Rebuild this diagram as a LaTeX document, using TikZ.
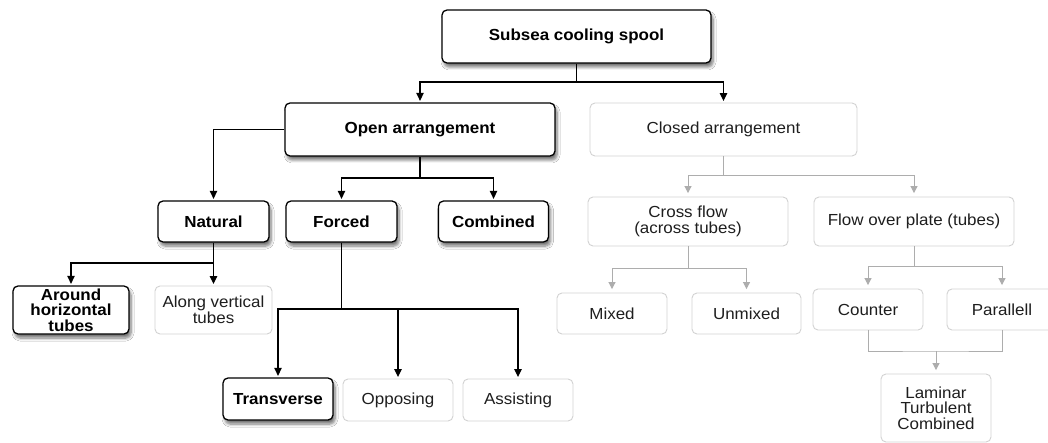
\documentclass[tikz,border=0pt]{standalone}
\usepackage{fontspec}
\setmainfont{Liberation Sans}[FakeStretch=1.06]
\usetikzlibrary{arrows.meta,shadows.blur}
\newcommand\myfs{\fontsize{16}{15.5}\selectfont}
\definecolor{lgray}{HTML}{D2D2D2}
\definecolor{cgray}{HTML}{ADADAD}
\definecolor{tgray}{HTML}{1E1E1E}
\begin{document}
\begin{tikzpicture}[x=1pt,y=-1pt,
  dark/.style={draw=black, line width=1.3pt, rounded corners=5pt, fill=white, align=center, inner sep=0pt,
    font=\myfs\bfseries,
    blur shadow={shadow xshift=2pt, shadow yshift=-4pt, shadow blur steps=6, shadow opacity=55, shadow blur radius=3pt}},
  light/.style={draw=lgray, line width=0.9pt, rounded corners=5pt, fill=white, align=center, inner sep=0pt,
    text=tgray, font=\myfs},
  bline/.style={line width=1.2pt, black},
  barr/.style={bline, -{Triangle[width=7.5pt,length=8pt]}, shorten >=1.5pt},
  gline/.style={line width=1pt, cgray},
  garr/.style={gline, -{Triangle[width=7pt,length=7pt]}, shorten >=3.5pt}
]
\fill[white] (0,0) rectangle (1048,443);
\useasboundingbox (0,0) rectangle (1048,443);

% nodes
\node[dark, minimum width=269pt, minimum height=53pt] (top) at (576.5,36.5) {Subsea cooling spool};
\node[dark, minimum width=270pt, minimum height=53pt] (open) at (420,129.5) {Open arrangement};
\node[light, minimum width=267pt, minimum height=53pt] (closed) at (723.5,129.5) {Closed arrangement};

\node[dark, minimum width=111pt, minimum height=41pt] (natural) at (213.5,221.5) {Natural};
\node[dark, minimum width=111pt, minimum height=41pt] (forced) at (341.5,221.5) {Forced};
\node[dark, minimum width=110pt, minimum height=41pt] (combined) at (493.5,221.5) {Combined};

\node[light, minimum width=200pt, minimum height=49pt] (cross) at (688,221.5) {Cross flow\\(across tubes)};
\node[light, minimum width=200pt, minimum height=49pt] (fop) at (914,221.5) {Flow over plate (tubes)};

\node[dark, minimum width=116pt, minimum height=48pt] (around) at (71,310) {Around\\horizontal\\tubes};
\node[light, minimum width=117pt, minimum height=48pt] (along) at (213.5,310) {Along vertical\\tubes};

\node[dark, minimum width=110pt, minimum height=42pt] (transverse) at (278,399) {Transverse};
\node[light, minimum width=110pt, minimum height=42pt] (opposing) at (398,400) {Opposing};
\node[light, minimum width=110pt, minimum height=42pt] (assisting) at (518,400) {Assisting};

\node[light, minimum width=110pt, minimum height=41pt] (mixed) at (612,313.5) {Mixed};
\node[light, minimum width=109pt, minimum height=41pt] (unmixed) at (746.5,313.5) {Unmixed};

\node[light, minimum width=110pt, minimum height=41pt] (counter) at (868,309.5) {Counter};
\node[light, minimum width=110pt, minimum height=41pt] (parallell) at (1002,309.5) {Parallell};

\node[light, minimum width=110pt, minimum height=68pt] (laminar) at (936,408) {Laminar\\Turbulent\\Combined};

% junctions
\coordinate (j1) at (576.5,82);
\coordinate (j2) at (420,178);
\coordinate (j3) at (213.5,263);
\coordinate (j4) at (341.5,309);
\coordinate (j5) at (723.5,176);
\coordinate (j6) at (688,269);
\coordinate (j7) at (914,267);
\coordinate (j8) at (936,351);

% black connectors
\draw[bline] (top) -- (j1);
\draw[barr] (j1) -| (open);
\draw[barr] (j1) -| (closed);
\draw[barr] (open.west) -| (natural);
\draw[bline] (open) -- (j2);
\draw[barr] (j2) -| (forced);
\draw[barr] (j2) -| (combined);
\draw[bline] (natural) -- (j3);
\draw[barr] (j3) -| (around);
\draw[barr] (j3) -- (along);
\draw[bline] (forced) -- (j4);
\draw[barr] (j4) -| (transverse);
\draw[barr] (j4) -| (opposing);
\draw[barr] (j4) -| (assisting);

% gray connectors
\draw[gline] (closed) -- (j5);
\draw[garr] (j5) -| (cross);
\draw[garr] (j5) -| (fop);
\draw[gline] (cross) -- (j6);
\draw[garr] (j6) -| (mixed);
\draw[garr] (j6) -| (unmixed);
\draw[gline] (fop) -- (j7);
\draw[garr] (j7) -| (counter);
\draw[garr] (j7) -| (parallell);
\draw[gline] (counter.south) |- (j8) -| (parallell.south);
\draw[garr] (j8) -- (laminar);
\end{tikzpicture}
\end{document}
